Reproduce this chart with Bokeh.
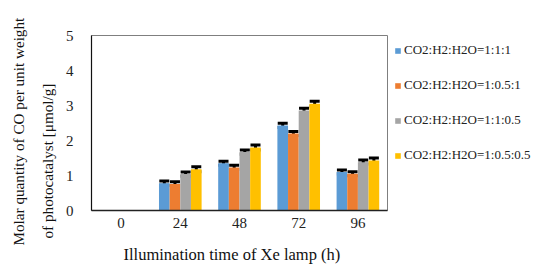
from bokeh.plotting import figure
from bokeh.models import ColumnDataSource, Whisker, Legend, LegendItem, TeeHead, FixedTicker, Title
from bokeh.transform import dodge
from bokeh.embed import file_html
from bokeh.resources import INLINE

times = ["0", "24", "48", "72", "96"]
series_names = ["CO2:H2:H2O=1:1:1", "CO2:H2:H2O=1:0.5:1",
                "CO2:H2:H2O=1:1:0.5", "CO2:H2:H2O=1:0.5:0.5"]
s1 = [0.0, 0.78, 1.35, 2.43, 1.10]
s2 = [0.0, 0.76, 1.23, 2.20, 1.05]
s3 = [0.0, 1.04, 1.67, 2.86, 1.38]
s4 = [0.0, 1.18, 1.80, 3.05, 1.43]
e1 = [0.0, 0.06, 0.06, 0.06, 0.06]
e2 = [0.0, 0.06, 0.06, 0.06, 0.06]
e3 = [0.0, 0.06, 0.06, 0.06, 0.06]
e4 = [0.0, 0.07, 0.07, 0.07, 0.07]
colors = ["#5B9BD5", "#ED7D31", "#A5A5A5", "#FFC000"]
x_title = "Illumination time of Xe lamp (h)"
y_title_1 = "Molar quantity of CO per unit weight"
y_title_2 = "of photocatalyst [\u03bcmol/g]"

FONT = "Liberation Serif"

p = figure(x_range=times, y_range=(0, 5), frame_width=296, frame_height=175,
           min_border_left=91, min_border_top=35, min_border_bottom=66, min_border_right=154,
           output_backend="svg", toolbar_location=None)

offsets = [-0.27, -0.09, 0.09, 0.27]
vals = [s1, s2, s3, s4]
errs = [e1, e2, e3, e4]
items = []
for name, v, e, c, off in zip(series_names, vals, errs, colors, offsets):
    src = ColumnDataSource(dict(t=times, v=v))
    r = p.vbar(x=dodge("t", off, range=p.x_range), top="v", width=0.18,
               source=src, fill_color=c, line_color=None)
    items.append(LegendItem(label=name, renderers=[r]))
    keep = [i for i, x in enumerate(v) if x > 0]
    esrc = ColumnDataSource(dict(t=[times[i] for i in keep],
                                 lo=[v[i] - e[i] for i in keep],
                                 hi=[v[i] + e[i] for i in keep]))
    w = Whisker(base=dodge("t", off, range=p.x_range), upper="hi", lower="lo",
                source=esrc, line_color="black", line_width=3,
                upper_head=TeeHead(size=10, line_color="black", line_width=3),
                lower_head=TeeHead(size=10, line_color="black", line_width=3))
    p.add_layout(w)

p.xgrid.grid_line_color = None
p.ygrid.grid_line_color = None
p.outline_line_color = "#7f7f7f"
p.outline_line_width = 1

p.yaxis.ticker = FixedTicker(ticks=[0, 1, 2, 3, 4, 5])
for ax in (p.xaxis, p.yaxis):
    ax.major_tick_line_color = None
    ax.minor_tick_line_color = None
    ax.major_label_text_font = FONT
    ax.major_label_text_font_size = "15px"
    ax.major_label_text_color = "#222222"
p.yaxis.axis_line_color = "#111111"
p.yaxis.axis_line_width = 1.2
p.xaxis.axis_line_color = "#222222"
p.xaxis.axis_line_width = 1.5
p.yaxis.major_label_standoff = 12
p.xaxis.major_label_standoff = 1


def mk_title(text, offset, standoff, size):
    t = Title(text=text, align="left", offset=offset, standoff=standoff)
    t.text_font = FONT
    t.text_font_size = size
    t.text_font_style = "normal"
    t.text_color = "#111111"
    return t


p.add_layout(mk_title(x_title, 32, 25, "16.5px"), "below")
p.add_layout(mk_title(y_title_2, -28, 13, "15.2px"), "left")
p.add_layout(mk_title(y_title_1, -35, 8, "15.2px"), "left")

legend = Legend(items=items, location="top_left", orientation="vertical")
legend.border_line_color = None
legend.background_fill_alpha = 0
legend.label_text_font = FONT
legend.label_text_font_size = "13px"
legend.label_text_color = "#222222"
legend.glyph_width = 7
legend.glyph_height = 7
legend.label_standoff = 3
legend.spacing = 19
legend.margin = 7
legend.padding = 12
legend.label_height = 15
p.add_layout(legend, "right")

open("out.html", "w").write(file_html(p, INLINE))
